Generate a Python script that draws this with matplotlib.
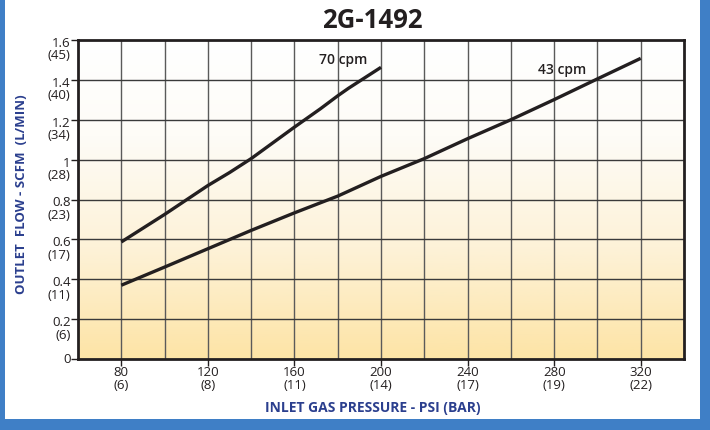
import numpy as np
import matplotlib
matplotlib.use("Agg")
import matplotlib.pyplot as plt
from matplotlib.patches import Rectangle
from matplotlib.colors import LinearSegmentedColormap
import matplotlib.transforms as mtrans

plt.rcParams['font.family'] = ['Open Sans', 'DejaVu Sans']

title = "2G-1492"
x_ticks = [80, 120, 160, 200, 240, 280, 320]
x_bar = ["(6)", "(8)", "(11)", "(14)", "(17)", "(19)", "(22)"]
y_ticks = [0, 0.2, 0.4, 0.6, 0.8, 1.0, 1.2, 1.4, 1.6]
y_ticklabels = ["0", "0.2", "0.4", "0.6", "0.8", "1", "1.2", "1.4", "1.6"]
y_lmin = ["", "(6)", "(11)", "(17)", "(23)", "(28)", "(34)", "(40)", "(45)"]

psi_70 = [80, 100, 120, 130, 140, 160, 172, 180, 185, 200]
flow_70 = [0.587, 0.725, 0.870, 0.935, 1.005, 1.163, 1.255, 1.320, 1.358, 1.463]
psi_43 = [80, 100, 120, 140, 160, 180, 200, 220, 240, 260, 280, 300, 320]
flow_43 = [0.370, 0.461, 0.553, 0.645, 0.733, 0.817, 0.916, 1.005, 1.105, 1.200, 1.301, 1.405, 1.508]

W, H = 710, 431
fig = plt.figure(figsize=(W / 100, H / 100), dpi=100, facecolor='#3f7fc6')
fig.patches.append(Rectangle((5 / W, 1 - 420 / H), 695 / W, 420 / H, transform=fig.transFigure,
                             facecolor='white', edgecolor='none', zorder=-10))

ax = fig.add_axes([78 / W, 1 - 360 / H, (684 - 78) / W, (360 - 41) / H])
ax.set_zorder(5)
ax.set_xlim(60, 340)
ax.set_ylim(0, 1.6)

# background gradient
cmap = LinearSegmentedColormap.from_list('g', [(0, '#fde4a6'), (0.35, '#fdf2d8'), (0.7, '#fefcf7'), (1, '#ffffff')])
grad = np.linspace(0, 1, 256).reshape(-1, 1)
ax.imshow(grad, extent=[60, 340, 0, 1.6], origin='lower', aspect='auto', cmap=cmap, zorder=0)

for xv in range(80, 340, 20):
    ax.axvline(xv, color='#5a5a5a', lw=1.0, zorder=1)
for yv in np.arange(0.2, 1.6, 0.2):
    ax.axhline(yv, color='#3a3a3a', lw=1.0, zorder=1)

ax.plot(psi_70, flow_70, color='#231f20', lw=2.4, zorder=3, solid_capstyle='butt')
ax.plot(psi_43, flow_43, color='#231f20', lw=2.4, zorder=3, solid_capstyle='butt')
ax.text(182.5, 1.505, "70 cpm", ha='center', va='center', fontsize=10, fontweight='semibold', color='#231f20', zorder=4)
ax.text(283.5, 1.455, "43 cpm", ha='center', va='center', fontsize=10, fontweight='semibold', color='#231f20', zorder=4)

for s in ax.spines.values():
    s.set_linewidth(2.0)
    s.set_color('#231f20')
    s.set_zorder(5)

ax.set_xticks(x_ticks)
ax.set_yticks(y_ticks)
ax.set_xticklabels([])
ax.set_yticklabels([])
ax.tick_params(axis='both', direction='out', length=5, width=1, color='#231f20')

tx = mtrans.blended_transform_factory(ax.transData, ax.transAxes)
for xv, b in zip(x_ticks, x_bar):
    ax.text(xv, -0.04, str(xv), transform=tx, ha='center', va='center', fontsize=9.5, color='#231f20')
    ax.text(xv, -0.08, b, transform=tx, ha='center', va='center', fontsize=9.5, color='#231f20')

ty = mtrans.blended_transform_factory(ax.transAxes, ax.transData)
for yv, lab, b in zip(y_ticks, y_ticklabels, y_lmin):
    off = -0.012 if b else 0.0
    ax.text(-0.012, yv + off, lab, transform=ty, ha='right', va='center', fontsize=9.5, color='#231f20')
    if b:
        ax.text(-0.012, yv - 0.075, b, transform=ty, ha='right', va='center', fontsize=9.5, color='#231f20')

fig.text(372 / W, 1 - 20 / H, title, ha='center', va='center', fontsize=18.5, fontweight='bold', color='#231f20')
fig.text(373 / W, 1 - 408 / H, "INLET GAS PRESSURE - PSI (BAR)", ha='center', va='center',
         fontsize=10, fontweight='bold', color='#2b3f8e')
fig.text(22 / W, 1 - 194 / H, "OUTLET  FLOW - SCFM  (L/MIN)", ha='center', va='center', rotation=90,
         fontsize=9.5, fontweight='bold', color='#2b3f8e')

fig.savefig('out.png', dpi=100, facecolor=fig.get_facecolor())
